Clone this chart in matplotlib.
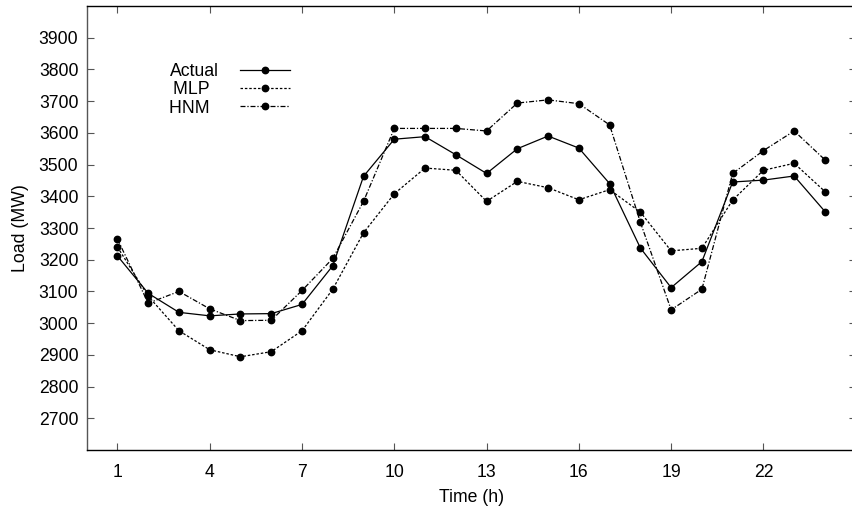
import matplotlib
matplotlib.use("Agg")
import matplotlib.pyplot as plt

hours = list(range(1, 25))
actual = [3212, 3094, 3034, 3023, 3029, 3030, 3059, 3181, 3463, 3580, 3588, 3531,
          3472, 3550, 3590, 3552, 3440, 3237, 3112, 3194, 3445, 3451, 3464, 3352]
mlp = [3240, 3085, 2976, 2916, 2894, 2910, 2976, 3107, 3285, 3408, 3489, 3482,
       3384, 3447, 3427, 3389, 3421, 3350, 3228, 3236, 3388, 3482, 3504, 3415]
hnm = [3265, 3063, 3100, 3045, 3008, 3009, 3103, 3204, 3384, 3614, 3614, 3614,
       3606, 3694, 3704, 3692, 3625, 3318, 3042, 3107, 3472, 3544, 3606, 3515]
xticks = [1, 4, 7, 10, 13, 16, 19, 22]
yticks = list(range(2700, 4000, 100))

plt.rcParams['font.family'] = ['Liberation Sans', 'DejaVu Sans']
plt.rcParams['font.size'] = 12.7

W, H = 853, 516
fig = plt.figure(figsize=(W / 100, H / 100), dpi=100)
ax = fig.add_axes([86.7 / W, 66 / H, 769 / W, 444 / H])

ms = 4.6
lw = 0.9
ax.plot(hours, actual, color='black', lw=lw, ls='-', marker='o', ms=ms, label='Actual')
ax.plot(hours, mlp, color='black', lw=lw, ls=(0, (2, 1.5)), marker='o', ms=ms, label='MLP  ')
ax.plot(hours, hnm, color='black', lw=lw, ls=(0, (4, 1.5, 1, 1.5)), marker='o', ms=ms, label='HNM  ')

ax.set_xlim(0, 25)
ax.set_ylim(2600, 4000)
ax.set_xticks(xticks)
ax.set_yticks(yticks)
ax.tick_params(direction='in', length=5, width=0.8, color='#555555', top=True, right=True, pad=6)
ax.tick_params(axis='x', pad=10)
for s in ['top', 'bottom']:
    ax.spines[s].set_color('black')
ax.spines['left'].set_color('#555555')
for s in ax.spines.values():
    s.set_linewidth(1.0)

ax.set_xlabel('Time (h)', labelpad=6)
ax.set_ylabel('Load (MW)', labelpad=7)

leg = ax.legend(loc='upper right', bbox_to_anchor=(299 / W, 1 - 54 / H), bbox_transform=fig.transFigure,
                frameon=False, markerfirst=False, borderpad=0, labelspacing=0.08,
                handlelength=2.84, handletextpad=1.19, fontsize=12.7)

fig.savefig('out.png', dpi=100)
